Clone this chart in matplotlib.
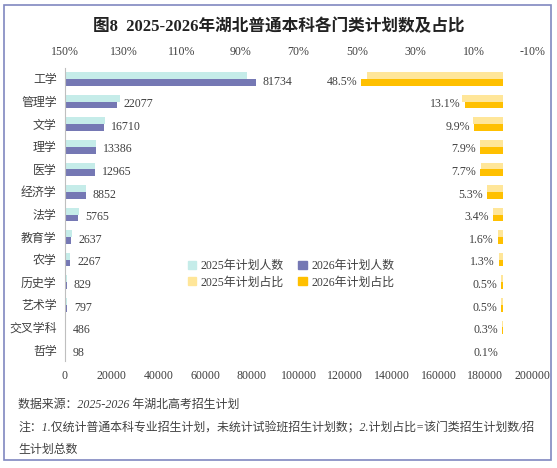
import numpy as np
import matplotlib.pyplot as plt
from matplotlib.patches import Rectangle, Patch

plt.rcParams['font.family'] = ['Liberation Serif', 'Noto Sans CJK SC']
plt.rcParams['font.size'] = 8.6

# data
categories = ['工学', '管理学', '文学', '理学', '医学', '经济学', '法学',
              '教育学', '农学', '历史学', '艺术学', '交叉学科', '哲学']
plan_2025 = [78000, 23500, 17000, 13300, 12700, 8900, 5900,
             3000, 2300, 850, 830, 400, 100]
plan_2026 = [81734, 22077, 16710, 13386, 12965, 8852, 5765,
             2637, 2267, 829, 797, 486, 98]
share_2025 = [46.6, 14.1, 10.2, 7.9, 7.6, 5.3, 3.5, 1.8, 1.4, 0.5, 0.5, 0.2, 0.1]
share_2026 = [48.5, 13.1, 9.9, 7.9, 7.7, 5.3, 3.4, 1.6, 1.3, 0.5, 0.5, 0.3, 0.1]

c_teal = '#C5ECE9'
c_purple = '#7578B4'
c_ltyellow = '#FFE699'
c_gold = '#FFC000'
c_text = '#404040'

W, H = 557, 468
fig = plt.figure(figsize=(W / 100, H / 100), dpi=100)

# outer frame
fig.patches.append(Rectangle((4 / W, 1 - 460 / H), 547 / W, 455 / H,
                             transform=fig.transFigure, fill=False,
                             edgecolor='#8088C0', linewidth=1.2))

ax = fig.add_axes([65 / W, 1 - 361.3 / H, 467 / W, 293.6 / H])
y = np.arange(len(categories))
h = 0.3

ax.barh(y - h / 2, plan_2025, height=h, color=c_teal, label='2025年计划人数')
ax.barh(y + h / 2, plan_2026, height=h, color=c_purple, label='2026年计划人数')
ax.set_xlim(0, 200000)
ax.set_xticks(np.arange(0, 200001, 20000))
ax.set_ylim(len(categories) - 0.5, -0.5)
ax.set_yticks(y)
ax.set_yticklabels(categories)

for yi, v in zip(y, plan_2026):
    ax.annotate(str(v), (v, yi + 0.12), xytext=(5, 0), textcoords='offset points',
                ha='left', va='center', color=c_text)

ax2 = ax.twiny()
ax2.barh(y - h / 2, share_2025, height=h, color=c_ltyellow, label='2025年计划占比')
ax2.barh(y + h / 2, share_2026, height=h, color=c_gold, label='2026年计划占比')
ax2.set_xlim(150, -10)
ax2.set_xticks(np.arange(150, -11, -20))
ax2.set_xticklabels([f'{t}%' for t in np.arange(150, -11, -20)])

for yi, v in zip(y, share_2026):
    ax2.annotate(f'{v:.1f}%', (v, yi + 0.12), xytext=(-3, 0), textcoords='offset points',
                 ha='right', va='center', color=c_text)

for a in (ax, ax2):
    for s in a.spines.values():
        s.set_visible(False)
    a.tick_params(length=0, colors=c_text)
ax.spines['left'].set_visible(True)
ax.spines['left'].set_color('#BFBFBF')
ax.tick_params(axis='x', pad=6)
ax.tick_params(axis='y', pad=6)
ax2.tick_params(axis='x', pad=7)

handles = [Patch(color=c_teal), Patch(color=c_ltyellow),
           Patch(color=c_purple), Patch(color=c_gold)]
labels = ['2025年计划人数', '2025年计划占比', '2026年计划人数', '2026年计划占比']
ax.legend(handles, labels, ncol=2, loc='center', bbox_to_anchor=(0.484, 0.296),
          frameon=False, handlelength=0.7, handleheight=0.7, handletextpad=0.4,
          columnspacing=1.2, labelspacing=0.35, labelcolor=c_text)

fig.text(0.5, 1 - 27 / H, '图8  2025-2026年湖北普通本科各门类计划数及占比',
         ha='center', va='center', fontsize=12, fontweight='bold', color='#222222')

notes = ['数据来源：2025-2026 年湖北高考招生计划',
         '注：1.仅统计普通本科专业招生计划，未统计试验班招生计划数；2.计划占比=该门类招生计划数/招',
         '生计划总数']
for txt, ty in zip(notes, [405, 428, 450]):
    fig.text(18 / W, 1 - ty / H, txt, ha='left', va='center', fontsize=8.6,
             style='italic', color=c_text)

fig.savefig('out.png', dpi=100)
